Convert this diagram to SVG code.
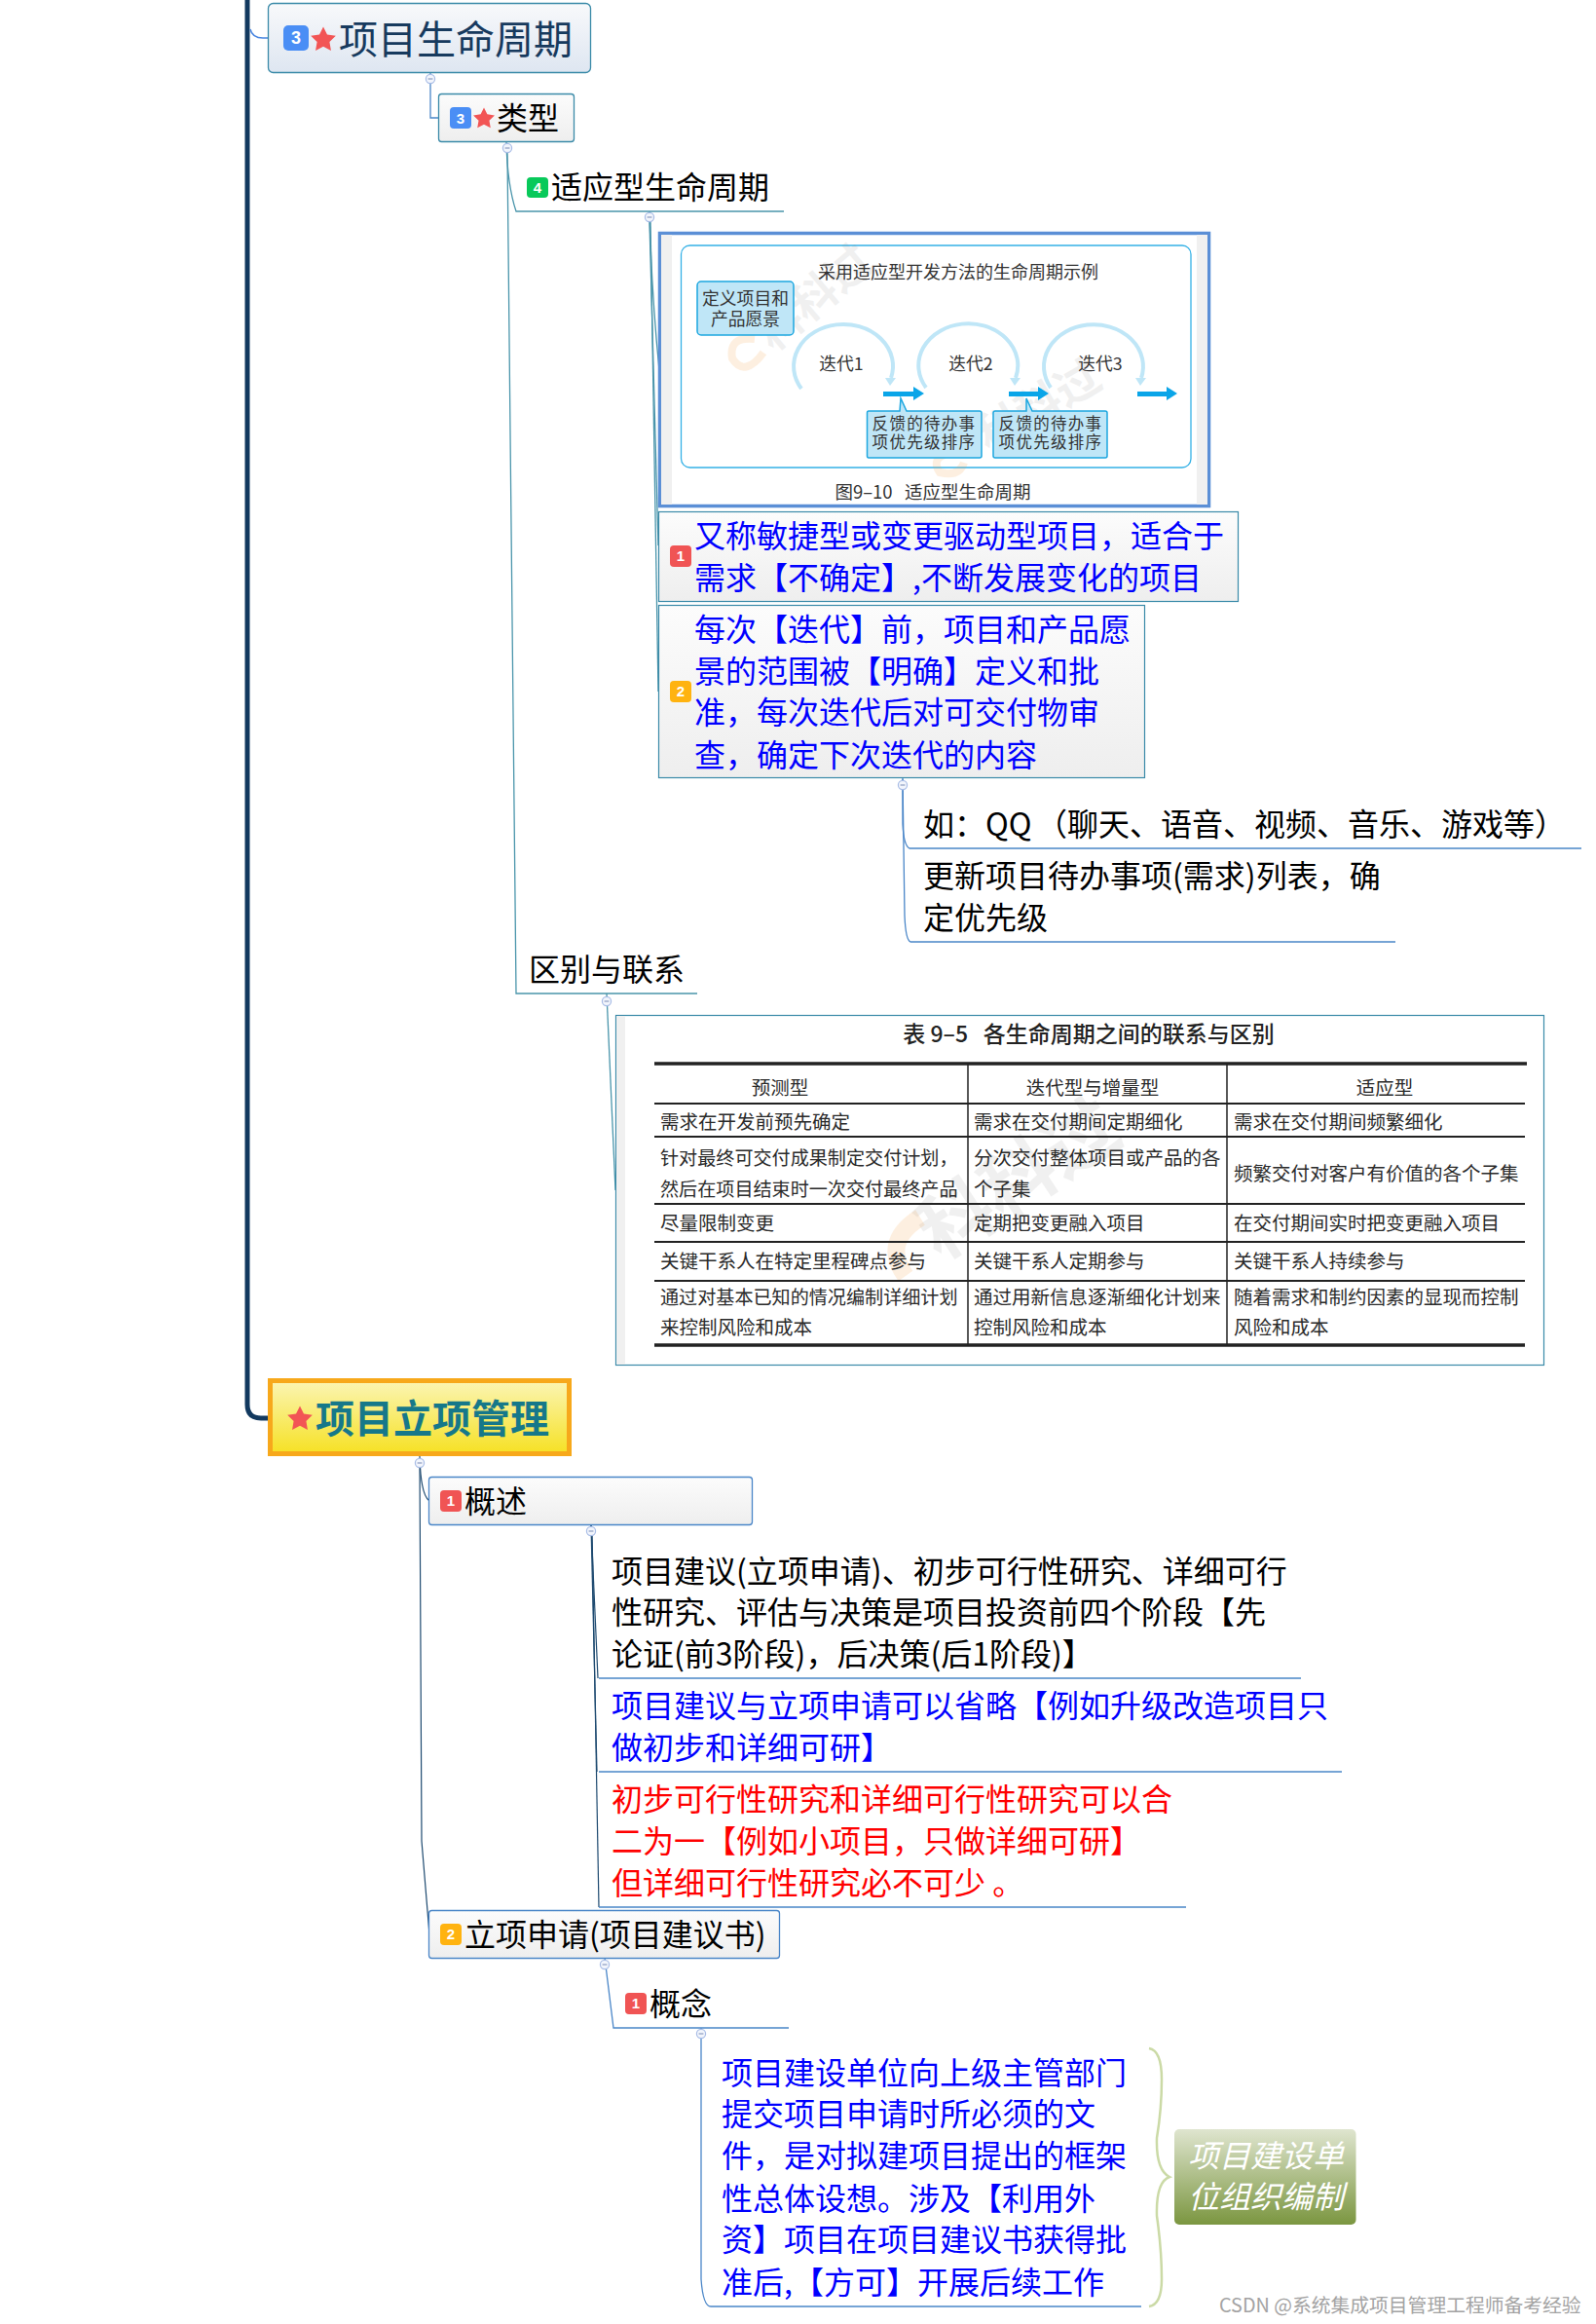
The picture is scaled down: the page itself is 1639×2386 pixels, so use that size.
<svg xmlns="http://www.w3.org/2000/svg" width="1639" height="2386" viewBox="0 0 1639 2386">
<style>
text{font-family:"Noto Sans CJK SC","Noto Sans",sans-serif;fill:#000}
.t32{font-size:32px}.b{fill:#0000ff}.r{fill:#ff0000}
.bd{font-family:"Liberation Sans",sans-serif;font-weight:700;fill:#fff;text-anchor:middle;font-size:15px}
.c{fill:none;stroke:#4a95ab;stroke-width:1.3}
.c2{fill:none;stroke:#1e4a70;stroke-width:1.2}
.c3{fill:none;stroke:#4a86c8;stroke-width:1.3}
.u2{stroke:#4a86c8;stroke-width:1.5}
.img{font-size:17.8px;fill:#333;text-anchor:middle}
.fb{font-size:16.5px;letter-spacing:1.3px;fill:#333;text-anchor:middle}
.tb{font-size:19.5px;fill:#2a2a2a}
.n16{font-size:19.1px}
.th{font-size:19.5px;fill:#2a2a2a;text-anchor:middle}
.line{stroke:#222;stroke-width:2}
.thick{stroke:#222;stroke-width:3.5}
.wm{fill:#888;opacity:.12;font-weight:700}
.sw{fill:none;stroke:#f39a3c;opacity:.16}
.ib{fill:#bfe6f7;stroke:#1da7e0;stroke-width:1.5}
.arc{fill:none;stroke:#bfe6f7;stroke-width:4}
.pre{white-space:pre}
</style>
<defs>
<linearGradient id="gBlue" x1="0" y1="0" x2="0" y2="1"><stop offset="0" stop-color="#f8f9fb"/><stop offset="1" stop-color="#dee6f1"/></linearGradient>
<linearGradient id="gGray" x1="0" y1="0" x2="0" y2="1"><stop offset="0" stop-color="#fcfcfc"/><stop offset="1" stop-color="#eeeeee"/></linearGradient>
<linearGradient id="gYel" x1="0" y1="0" x2="0" y2="1"><stop offset="0" stop-color="#fbf5b4"/><stop offset="1" stop-color="#f6e124"/></linearGradient>
<linearGradient id="gGrn" x1="0" y1="0" x2="0" y2="1"><stop offset="0" stop-color="#dfe5cf"/><stop offset="1" stop-color="#7b9640"/></linearGradient>
<polygon id="star" fill="#f25555" points="0,-1 .294,-.405 .951,-.309 .476,.155 .588,.809 0,.5 -.588,.809 -.476,.155 -.951,-.309 -.294,-.405"/>
<g id="col"><circle r="4.6" fill="#f2f5fc" stroke="#a9bde6" stroke-width="1.2"/><path d="M-2.4 0H2.4" stroke="#8c9cc0" stroke-width="1.2"/></g>
</defs>
<rect width="1639" height="2386" fill="#fff"/>

<g id="connectors">
<path d="M254 0V1442Q254 1456 268 1456H275" fill="none" stroke="#12395f" stroke-width="5"/>
<path d="M257 30Q259 39 270 39H275" fill="none" stroke="#4a86e0" stroke-width="1.5"/>
<path class="c3" d="M442 75V121H450"/>
<path class="c" d="M520 146Q521 190 530 217H805"/>
<path class="c" d="M521 157L530 1020H716"/>
<path class="c" d="M667 217Q669 300 677 380"/>
<path class="c" d="M667 228L676 560"/>
<path class="c" d="M668 228L676 710"/>
<path class="c3" d="M927 790V846Q928 868 934 871H1624" stroke-width="1.2"/>
<path class="c3" d="M927 800L929 940Q930 965 935 967H1433" stroke-width="1.2"/>
<path class="c" d="M623 1020L632 1222"/>
<path class="c2" d="M431 1495Q432 1535 441 1541"/>
<path class="c2" d="M431 1502L433 1890L441 1986" stroke="#5b7590"/>
<path class="c2" d="M607 1566L614 1723" stroke-width="1.5"/>
<path class="c2" d="M607 1566L613 1819" stroke-width="1.1"/>
<path class="c2" d="M608 1570L615 1958" stroke-width="1.1"/>
<path class="u2" d="M615 1723H1336M615 1819H1378M615 1958H1218"/>
<path class="c3" d="M621 2010L630 2082H810"/>
<path class="c3" d="M720 2082V2340Q722 2368 730 2368H1172"/>
<use href="#col" x="442" y="81"/>
<use href="#col" x="521" y="152"/>
<use href="#col" x="667" y="223"/>
<use href="#col" x="927" y="806"/>
<use href="#col" x="623" y="1028"/>
<use href="#col" x="431" y="1502"/>
<use href="#col" x="607" y="1572"/>
<use href="#col" x="621" y="2017"/>
<use href="#col" x="720" y="2088"/>
</g>

<g id="n-lifecycle">
<rect x="275.500" y="3.500" width="331" height="71" rx="5" fill="url(#gBlue)" stroke="#3a8aa8" stroke-width="1.3"/>
<rect x="291" y="26" width="26" height="26" rx="5" fill="#4a8ef5"/><text class="bd" x="304" y="45" style="font-size:18px">3</text>
<use href="#star" transform="translate(332 41) scale(13.500)"/>
<text x="348" y="55" font-size="40" style="fill:#173a5e">项目生命周期</text>
</g>

<g id="n-type">
<rect x="450.500" y="96.500" width="139" height="49" rx="3" fill="url(#gGray)" stroke="#3a8aa8" stroke-width="1.3"/>
<rect x="462" y="110" width="22" height="22" rx="4" fill="#4a8ef5"/><text class="bd" x="473" y="126.500">3</text>
<use href="#star" transform="translate(497 122) scale(11.500)"/>
<text class="t32" x="510" y="133">类型</text>
</g>

<g id="n-adaptive">
<rect x="541" y="182" width="22" height="21" rx="4" fill="#08c95a"/><text class="bd" x="552" y="198">4</text>
<text class="t32" x="566" y="204">适应型生命周期</text>
</g>

<g id="n-image1">
<rect x="677.500" y="239.500" width="564" height="280" fill="#fff" stroke="#5b8fd6" stroke-width="3.500"/>
<rect x="679" y="241" width="11" height="277" fill="#f0f0f0"/><rect x="1229" y="241" width="11" height="277" fill="#f0f0f0"/>
<rect x="699.500" y="252" width="523.500" height="228" rx="9" fill="#fff" stroke="#35b1e6" stroke-width="1.3"/>
<text class="wm" font-size="46" transform="translate(794 362) rotate(-40)">科科过</text>
<text class="wm" font-size="46" transform="translate(1015 465) rotate(-30)">科科过</text>
<path class="sw" stroke-width="8" d="M775 348Q748 345 752 368Q765 388 784 362"/>
<path class="sw" stroke-width="8" d="M975 465Q955 470 965 485Q985 490 990 475"/>
<text class="img" x="984" y="286" style="font-size:18px">采用适应型开发方法的生命周期示例</text>
<rect class="ib" x="716" y="289" width="99" height="55" rx="4"/>
<text class="img"><tspan x="765.500" y="313">定义项目和</tspan><tspan x="765.500" y="334">产品愿景</tspan></text>
<path class="arc" d="M823 399A51 43 0 1 1 915 388"/>
<path class="arc" d="M951 398A51 43 0 1 1 1043 388"/>
<path class="arc" d="M1079 398A51 43 0 1 1 1172 388"/>
<polygon fill="#bfe6f7" points="909,388 920,388 914,396"/><polygon fill="#bfe6f7" points="1037,388 1048,388 1042,396"/><polygon fill="#bfe6f7" points="1166,388 1177,388 1171,396"/>
<text class="img" x="864" y="380">迭代1</text><text class="img" x="997" y="380">迭代2</text><text class="img" x="1130" y="380">迭代3</text>
<g fill="#0aa5e8"><polygon points="907,402 938,402 938,397 949,404 938,411 938,407 907,407"/><polygon points="1036,402 1066,402 1066,397 1077,404 1066,411 1066,407 1036,407"/><polygon points="1168,402 1198,402 1198,397 1209,404 1198,411 1198,407 1168,407"/></g>
<path class="ib" d="M892 422H924L925 409L931 422H1006Q1008 422 1008 424V468Q1008 470 1006 470H892Q890.500 470 890.500 468V424Q890.500 422 892 422Z"/>
<path class="ib" d="M1022 422H1054L1054 409L1060 422H1135Q1137 422 1137 424V468Q1137 470 1135 470H1022Q1020 470 1020 468V424Q1020 422 1022 422Z"/>
<text class="fb"><tspan x="949" y="441">反馈的待办事</tspan><tspan x="949" y="460">项优先级排序</tspan></text>
<text class="fb"><tspan x="1079" y="441">反馈的待办事</tspan><tspan x="1079" y="460">项优先级排序</tspan></text>
<text class="img pre" x="958" y="512" style="font-size:18.500px">图9–10   适应型生命周期</text>
</g>

<g id="n-note1">
<rect x="676.500" y="525.500" width="595" height="92" fill="url(#gGray)" stroke="#3a8aa8" stroke-width="1.200"/>
<rect x="688" y="560" width="22" height="22" rx="4" fill="#f05454"/><text class="bd" x="699" y="576">1</text>
<text class="t32 b"><tspan x="713" y="562">又称敏捷型或变更驱动型项目，适合于</tspan><tspan x="713" y="605">需求【不确定】,不断发展变化的项目</tspan></text>
</g>

<g id="n-note2">
<rect x="676.500" y="621.500" width="499" height="177" fill="url(#gGray)" stroke="#3a8aa8" stroke-width="1.200"/>
<rect x="688" y="699" width="22" height="22" rx="4" fill="#ffb310"/><text class="bd" x="699" y="715">2</text>
<text class="t32 b"><tspan x="713" y="658">每次【迭代】前，项目和产品愿</tspan><tspan x="713" y="701">景的范围被【明确】定义和批</tspan><tspan x="713" y="743">准，每次迭代后对可交付物审</tspan><tspan x="713" y="787">查，确定下次迭代的内容</tspan></text>
</g>

<g id="n-qq">
<text class="t32" y="858"><tspan x="948">如：QQ</tspan><tspan x="1064">（</tspan><tspan x="1096">聊天、语音、视频、音乐、游戏等）</tspan></text>
</g>
<g id="n-backlog">
<text class="t32"><tspan x="948" y="911">更新项目待办事项(需求)列表，确</tspan><tspan x="948" y="954">定优先级</tspan></text>
</g>

<g id="n-diff">
<text class="t32" x="543" y="1007">区别与联系</text>
</g>

<g id="n-table">
<rect x="632.500" y="1042.500" width="953" height="359" fill="#fff" stroke="#3a8aa8" stroke-width="1.200"/>
<rect x="633" y="1043" width="9" height="358" fill="#f0f0f0"/>
<text class="wm" font-size="76" transform="translate(965 1295) rotate(-33)">科科过</text>
<path class="sw" stroke-width="18" d="M945 1250Q905 1275 930 1310"/>
<text class="pre" x="1118" y="1070" font-size="23" text-anchor="middle" style="fill:#222;font-weight:500">表 9–5   各生命周期之间的联系与区别</text>
<path class="thick" d="M672 1092H1568M672 1381H1566"/>
<path class="line" d="M672 1133H1566M672 1167H1566M672 1236H1566M672 1275H1566M672 1315H1566"/>
<path stroke="#222" stroke-width="1.500" d="M994 1092V1381M1260 1092V1381"/>
<text class="th" x="801" y="1124">预测型</text><text class="th" x="1122" y="1124">迭代型与增量型</text><text class="th" x="1422" y="1124">适应型</text>
<text class="tb" x="678" y="1159">需求在开发前预先确定</text><text class="tb" x="1000" y="1159">需求在交付期间定期细化</text><text class="tb" x="1267" y="1159">需求在交付期间频繁细化</text>
<text class="tb n16"><tspan x="678" y="1196">针对最终可交付成果制定交付计划，</tspan><tspan x="678" y="1228">然后在项目结束时一次交付最终产品</tspan></text>
<text class="tb"><tspan x="1000" y="1196">分次交付整体项目或产品的各</tspan><tspan x="1000" y="1228">个子集</tspan></text>
<text class="tb" x="1267" y="1212">频繁交付对客户有价值的各个子集</text>
<text class="tb" x="678" y="1263">尽量限制变更</text><text class="tb" x="1000" y="1263">定期把变更融入项目</text><text class="tb" x="1267" y="1263">在交付期间实时把变更融入项目</text>
<text class="tb" x="678" y="1302">关键干系人在特定里程碑点参与</text><text class="tb" x="1000" y="1302">关键干系人定期参与</text><text class="tb" x="1267" y="1302">关键干系人持续参与</text>
<text class="tb n16"><tspan x="678" y="1339">通过对基本已知的情况编制详细计划</tspan><tspan x="678" y="1370" style="font-size:19.5px">来控制风险和成本</tspan></text>
<text class="tb"><tspan x="1000" y="1339">通过用新信息逐渐细化计划来</tspan><tspan x="1000" y="1370">控制风险和成本</tspan></text>
<text class="tb"><tspan x="1267" y="1339">随着需求和制约因素的显现而控制</tspan><tspan x="1267" y="1370">风险和成本</tspan></text>
</g>

<g id="n-project">
<rect x="277.500" y="1417.500" width="307" height="75" fill="url(#gYel)" stroke="#f7a81b" stroke-width="5"/>
<use href="#star" transform="translate(308 1457) scale(13.500)"/>
<text x="324" y="1471" font-size="40" font-weight="700" style="fill:#16788a">项目立项管理</text>
</g>

<g id="n-overview">
<rect x="440.500" y="1516.500" width="332" height="49" rx="3" fill="url(#gGray)" stroke="#4a86c8" stroke-width="1.300"/>
<rect x="452" y="1530" width="22" height="22" rx="4" fill="#f05454"/><text class="bd" x="463" y="1546">1</text>
<text class="t32" x="477" y="1553">概述</text>
</g>

<g id="n-o1">
<text class="t32"><tspan x="628" y="1625">项目建议(立项申请)、初步可行性研究、详细可行</tspan><tspan x="628" y="1667">性研究、评估与决策是项目投资前四个阶段【先</tspan><tspan x="628" y="1710">论证(前3阶段)，后决策(后1阶段)】</tspan></text>
</g>
<g id="n-o2">
<text class="t32 b"><tspan x="628" y="1763">项目建议与立项申请可以省略【例如升级改造项目只</tspan><tspan x="628" y="1806">做初步和详细可研】</tspan></text>
</g>
<g id="n-o3">
<text class="t32 r"><tspan x="628" y="1859">初步可行性研究和详细可行性研究可以合</tspan><tspan x="628" y="1902">二为一【例如小项目，只做详细可研】</tspan><tspan x="628" y="1945">但详细可行性研究必不可少 。</tspan></text>
</g>

<g id="n-apply">
<rect x="440.500" y="1961.500" width="360" height="49" rx="3" fill="url(#gGray)" stroke="#4a86c8" stroke-width="1.300"/>
<rect x="452" y="1975" width="22" height="22" rx="4" fill="#ffb310"/><text class="bd" x="463" y="1991">2</text>
<text class="t32" x="477" y="1998">立项申请(项目建议书)</text>
</g>

<g id="n-concept">
<rect x="642" y="2046" width="22" height="22" rx="4" fill="#f05454"/><text class="bd" x="653" y="2062">1</text>
<text class="t32" x="667" y="2069">概念</text>
</g>

<g id="n-def">
<text class="t32 b"><tspan x="741" y="2140">项目建设单位向上级主管部门</tspan><tspan x="741" y="2182">提交项目申请时所必须的文</tspan><tspan x="741" y="2225">件，是对拟建项目提出的框架</tspan><tspan x="741" y="2269">性总体设想。涉及【利用外</tspan><tspan x="741" y="2311">资】项目在项目建议书获得批</tspan><tspan x="741" y="2355">准后,【方可】开展后续工作</tspan></text>
</g>

<g id="n-brace">
<path d="M1180 2103Q1193 2105 1193 2135Q1193 2165 1188 2195Q1187 2228 1201 2235Q1187 2240 1188 2275Q1193 2310 1193 2340Q1193 2366 1180 2368" fill="none" stroke="#cbdaa6" stroke-width="2.500"/>
</g>

<g id="n-owner">
<rect x="1206" y="2186" width="186.500" height="98" rx="5" fill="url(#gGrn)"/>
<text class="t32" text-anchor="middle" font-style="italic" style="fill:#fff"><tspan x="1300" y="2225">项目建设单</tspan><tspan x="1300" y="2267">位组织编制</tspan></text>
</g>

<text x="1252" y="2374" font-size="19.800" style="fill:#a3a3a3">CSDN @系统集成项目管理工程师备考经验</text>
</svg>
